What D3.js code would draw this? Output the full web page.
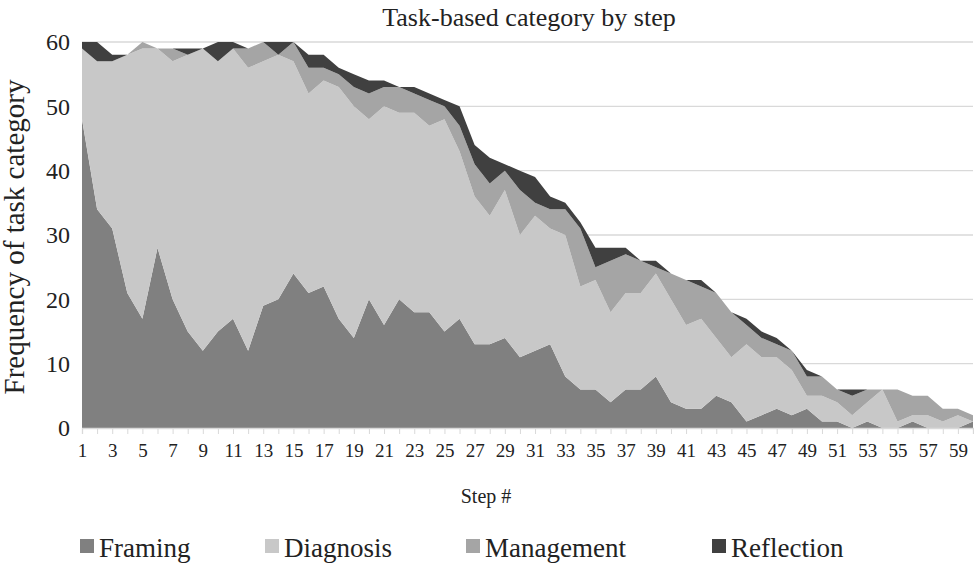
<!DOCTYPE html>
<html><head><meta charset="utf-8">
<script src="https://cdn.jsdelivr.net/npm/d3@7"></script>
<style>body{margin:0;background:#fff}text{font-family:"Liberation Serif","DejaVu Serif",serif;fill:#222}</style>
</head><body><svg id="chart" width="974" height="564"></svg>
<script>
var steps = d3.range(1, 61);
var framing = [48,34,31,21,17,28,20,15,12,15,17,12,19,20,24,21,22,17,14,20,16,20,18,18,15,17,13,13,14,11,12,13,8,6,6,4,6,6,8,4,3,3,5,4,1,2,3,2,3,1,1,0,1,0,0,1,0,0,0,1];
var diagnosis = [11,23,26,37,42,31,37,43,47,42,42,44,38,38,33,31,32,36,36,28,34,29,31,29,33,26,23,20,23,19,21,18,22,16,17,14,15,15,16,16,13,14,9,7,12,9,8,7,2,4,3,2,3,6,1,1,2,1,2,0];
var management = [0,0,0,0,1,0,2,0,0,0,0,3,3,0,3,4,2,2,3,4,3,4,3,4,2,4,5,5,3,7,2,3,4,9,2,8,6,5,1,4,7,5,7,7,3,3,2,3,3,3,2,3,2,0,5,3,3,2,1,1];
var reflection = [1,3,1,0,0,0,0,1,0,3,1,0,0,2,0,2,2,1,2,2,1,0,1,1,1,3,3,4,1,3,4,2,1,1,3,2,1,0,1,0,0,1,0,0,1,1,1,0,1,0,0,1,0,0,0,0,0,0,0,0];
var seriesNames = ["Framing", "Diagnosis", "Management", "Reflection"];
var colors = ["#808080", "#c8c8c8", "#a5a5a5", "#404040"];
var yTicks = [0,10,20,30,40,50,60];

var svg = d3.select("#chart");
var x = d3.scalePoint().domain(steps).range([82, 973]);
var y = d3.scaleLinear().domain([0, 60]).range([428, 42]);

var rows = steps.map(function(s, i) {
    return {step: s, Framing: framing[i], Diagnosis: diagnosis[i], Management: management[i], Reflection: reflection[i]};
});
var stacked = d3.stack().keys(seriesNames)(rows);

// gridlines
svg.append("g").selectAll("line").data(yTicks).enter().append("line")
    .attr("x1", 82).attr("x2", 973)
    .attr("y1", function(d) { return y(d); }).attr("y2", function(d) { return y(d); })
    .attr("stroke", "#d9d9d9").attr("stroke-width", 1.3);

var area = d3.area()
    .x(function(d) { return x(d.data.step); })
    .y0(function(d) { return y(d[0]); })
    .y1(function(d) { return y(d[1]); });

svg.append("g").selectAll("path").data(stacked).enter().append("path")
    .attr("d", area).attr("fill", function(d, i) { return colors[i]; });

// x axis
var xAxis = svg.append("g").attr("transform", "translate(0,428)")
    .call(d3.axisBottom(x).tickSizeOuter(0).tickSize(6)
        .tickFormat(function(d) { return d % 2 === 1 ? d : ""; }));
xAxis.select(".domain").attr("stroke", "#d9d9d9").attr("stroke-width", 1.3);
xAxis.selectAll(".tick line").attr("stroke", "#d9d9d9");
xAxis.selectAll("text").attr("font-size", 19).attr("dy", "1.05em").attr("fill", "#222");

// y axis labels
svg.append("g").selectAll("text").data(yTicks).enter().append("text")
    .attr("x", 70).attr("y", function(d) { return y(d); }).attr("dy", "0.35em")
    .attr("text-anchor", "end").attr("font-size", 24).text(function(d) { return d; });

svg.append("text").attr("x", 529).attr("y", 26).attr("text-anchor", "middle")
    .attr("font-size", 26).text("Task-based category by step");
svg.append("text").attr("transform", "translate(24,237) rotate(-90)")
    .attr("text-anchor", "middle").attr("font-size", 29).text("Frequency of task category");
svg.append("text").attr("x", 486).attr("y", 503).attr("text-anchor", "middle")
    .attr("font-size", 20).text("Step #");

var legendX = [80, 265, 466, 712];
var legend = svg.append("g").selectAll("g").data(seriesNames).enter().append("g")
    .attr("transform", function(d, i) { return "translate(" + legendX[i] + ",548)"; });
legend.append("rect").attr("x", 0).attr("y", -9).attr("width", 14).attr("height", 14)
    .attr("fill", function(d, i) { return colors[i]; });
legend.append("text").attr("x", 19).attr("y", 0).attr("dy", "0.35em")
    .attr("font-size", 27).text(function(d) { return d; });
</script></body></html>
